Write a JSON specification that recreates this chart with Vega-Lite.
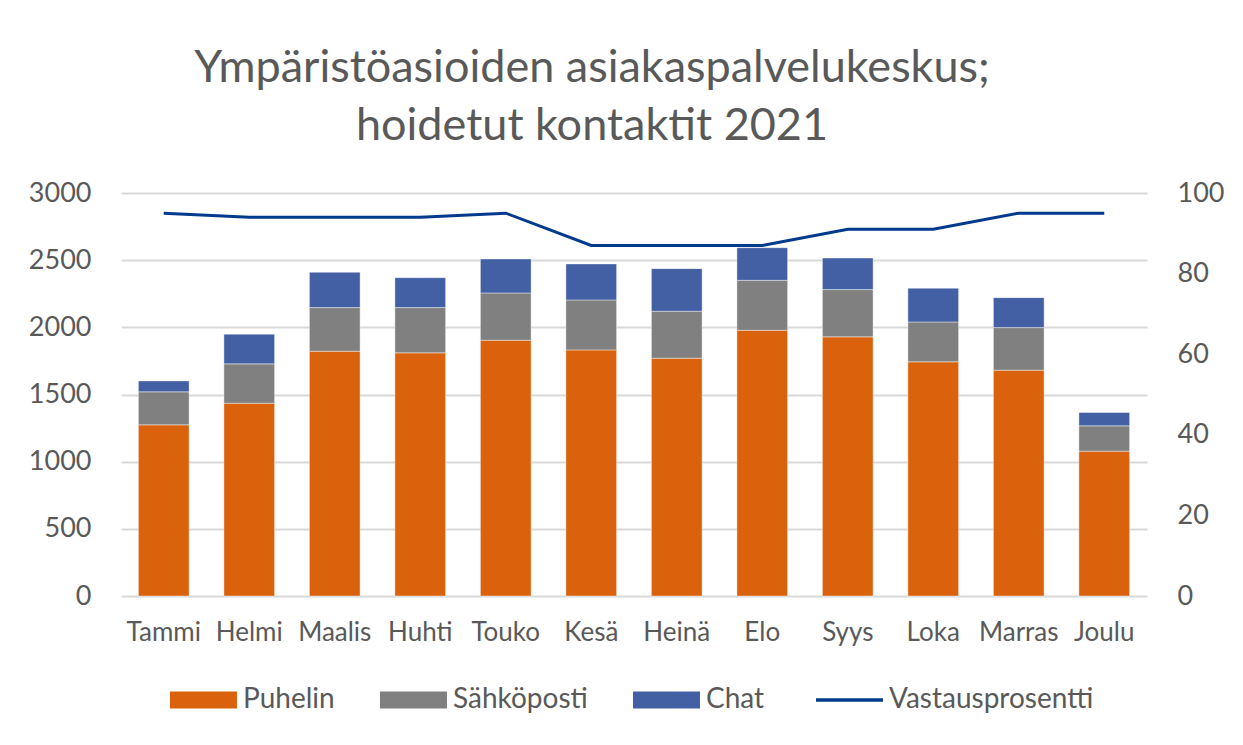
{
  "$schema": "https://vega.github.io/schema/vega-lite/v6.json",
  "width": 1026,
  "height": 403,
  "autosize": "none",
  "padding": {"left": 121, "top": 193, "right": 96, "bottom": 149},
  "background": "white",
  "config": {
    "view": {"stroke": null},
    "font": "Lato",
    "axis": {"labelFont": "Lato", "labelColor": "#595959"},
    "legend": {"labelFont": "Lato", "labelColor": "#595959"}
  },
  "title": {
    "text": ["Ympäristöasioiden asiakaspalvelukeskus;", "hoidetut kontaktit 2021"],
    "font": "Lato",
    "fontSize": 45,
    "fontWeight": "normal",
    "color": "#595959",
    "anchor": "middle",
    "dx": -42,
    "dy": 11,
    "lineHeight": 58,
    "offset": 5,
    "baseline": "alphabetic"
  },
  "datasets": {
    "bars": [
      {"kk": "Tammi", "tyyppi": "Puhelin", "maara": 1274},
      {"kk": "Tammi", "tyyppi": "Sähköposti", "maara": 246},
      {"kk": "Tammi", "tyyppi": "Chat", "maara": 81},
      {"kk": "Helmi", "tyyppi": "Puhelin", "maara": 1435},
      {"kk": "Helmi", "tyyppi": "Sähköposti", "maara": 293},
      {"kk": "Helmi", "tyyppi": "Chat", "maara": 221},
      {"kk": "Maalis", "tyyppi": "Puhelin", "maara": 1822},
      {"kk": "Maalis", "tyyppi": "Sähköposti", "maara": 325},
      {"kk": "Maalis", "tyyppi": "Chat", "maara": 263},
      {"kk": "Huhti", "tyyppi": "Puhelin", "maara": 1810},
      {"kk": "Huhti", "tyyppi": "Sähköposti", "maara": 337},
      {"kk": "Huhti", "tyyppi": "Chat", "maara": 223},
      {"kk": "Touko", "tyyppi": "Puhelin", "maara": 1904},
      {"kk": "Touko", "tyyppi": "Sähköposti", "maara": 352},
      {"kk": "Touko", "tyyppi": "Chat", "maara": 253},
      {"kk": "Kesä", "tyyppi": "Puhelin", "maara": 1832},
      {"kk": "Kesä", "tyyppi": "Sähköposti", "maara": 372},
      {"kk": "Kesä", "tyyppi": "Chat", "maara": 268},
      {"kk": "Heinä", "tyyppi": "Puhelin", "maara": 1770},
      {"kk": "Heinä", "tyyppi": "Sähköposti", "maara": 350},
      {"kk": "Heinä", "tyyppi": "Chat", "maara": 317},
      {"kk": "Elo", "tyyppi": "Puhelin", "maara": 1978},
      {"kk": "Elo", "tyyppi": "Sähköposti", "maara": 372},
      {"kk": "Elo", "tyyppi": "Chat", "maara": 243},
      {"kk": "Syys", "tyyppi": "Puhelin", "maara": 1929},
      {"kk": "Syys", "tyyppi": "Sähköposti", "maara": 352},
      {"kk": "Syys", "tyyppi": "Chat", "maara": 235},
      {"kk": "Loka", "tyyppi": "Puhelin", "maara": 1743},
      {"kk": "Loka", "tyyppi": "Sähköposti", "maara": 297},
      {"kk": "Loka", "tyyppi": "Chat", "maara": 251},
      {"kk": "Marras", "tyyppi": "Puhelin", "maara": 1681},
      {"kk": "Marras", "tyyppi": "Sähköposti", "maara": 317},
      {"kk": "Marras", "tyyppi": "Chat", "maara": 223},
      {"kk": "Joulu", "tyyppi": "Puhelin", "maara": 1078},
      {"kk": "Joulu", "tyyppi": "Sähköposti", "maara": 189},
      {"kk": "Joulu", "tyyppi": "Chat", "maara": 99}
    ],
    "linja": [
      {"kk": "Tammi", "pros": 95},
      {"kk": "Helmi", "pros": 94},
      {"kk": "Maalis", "pros": 94},
      {"kk": "Huhti", "pros": 94},
      {"kk": "Touko", "pros": 95},
      {"kk": "Kesä", "pros": 87},
      {"kk": "Heinä", "pros": 87},
      {"kk": "Elo", "pros": 87},
      {"kk": "Syys", "pros": 91},
      {"kk": "Loka", "pros": 91},
      {"kk": "Marras", "pros": 95},
      {"kk": "Joulu", "pros": 95}
    ]
  },
  "layer": [
    {
      "data": {"name": "bars"},
      "transform": [
        {"calculate": "indexof(['Puhelin','Sähköposti','Chat'], datum.tyyppi)", "as": "jarj"}
      ],
      "mark": {"type": "bar", "stroke": "white", "strokeWidth": 0.8, "strokeOpacity": 0.5},
      "encoding": {
        "x": {
          "field": "kk",
          "type": "nominal",
          "sort": ["Tammi", "Helmi", "Maalis", "Huhti", "Touko", "Kesä", "Heinä", "Elo", "Syys", "Loka", "Marras", "Joulu"],
          "scale": {"paddingInner": 0.407, "paddingOuter": 0.2035},
          "axis": {
            "title": null,
            "labelAngle": 0,
            "labelFontSize": 26,
            "labelPadding": 23,
            "ticks": false,
            "domain": false
          }
        },
        "y": {
          "field": "maara",
          "type": "quantitative",
          "stack": "zero",
          "scale": {"domain": [0, 3000], "nice": false},
          "axis": {
            "title": null,
            "values": [0, 500, 1000, 1500, 2000, 2500, 3000],
            "format": "d",
            "labelFontSize": 27,
            "labelPadding": 30,
            "ticks": false,
            "tickSize": 0,
            "domain": false,
            "grid": true,
            "gridColor": "#d9d9d9",
            "gridWidth": 2
          }
        },
        "color": {
          "field": "tyyppi",
          "type": "nominal",
          "scale": {
            "domain": ["Puhelin", "Sähköposti", "Chat", "Vastausprosentti"],
            "range": ["#DA620D", "#808080", "#4360A5", "#003A8C"]
          },
          "legend": {
            "title": null,
            "orient": "none",
            "direction": "horizontal",
            "legendX": 68.5,
            "legendY": 493,
            "padding": 0,
            "symbolSize": 4489,
            "symbolStrokeWidth": 0,
            "labelFontSize": 28,
            "labelOffset": 25.5,
            "labelLimit": 400,
            "columnPadding": 44,
            "labelColor": "#595959",
            "encoding": {
              "symbols": {
                "shape": {"value": {"expr": "datum.value === 'Vastausprosentti' ? 'M-1,0H1' : 'M-1,-0.254H1V0.254H-1Z'"}},
                "size": {"value": 4489},
                "fill": {"value": {"expr": "scale('color', datum.value)"}},
                "fillOpacity": {"value": {"expr": "datum.value === 'Vastausprosentti' ? 0 : 1"}},
                "stroke": {"value": {"expr": "scale('color', datum.value)"}},
                "strokeWidth": {"value": {"expr": "datum.value === 'Vastausprosentti' ? 3.5 : 0"}},
                "opacity": {"value": 1}
              }
            }
          }
        },
        "order": {"field": "jarj", "type": "quantitative"}
      }
    },
    {
      "data": {"name": "linja"},
      "mark": {"type": "line", "strokeWidth": 3},
      "encoding": {
        "x": {
          "field": "kk",
          "type": "nominal",
          "sort": ["Tammi", "Helmi", "Maalis", "Huhti", "Touko", "Kesä", "Heinä", "Elo", "Syys", "Loka", "Marras", "Joulu"]
        },
        "y": {
          "field": "pros",
          "type": "quantitative",
          "scale": {"domain": [0, 100], "nice": false},
          "axis": {
            "orient": "right",
            "title": null,
            "values": [0, 20, 40, 60, 80, 100],
            "labelFontSize": 27,
            "labelPadding": 30,
            "ticks": false,
            "tickSize": 0,
            "domain": false,
            "grid": false
          }
        },
        "color": {
          "datum": "Vastausprosentti",
          "legend": {
            "title": null,
            "orient": "none",
            "direction": "horizontal",
            "legendX": 68.5,
            "legendY": 493,
            "padding": 0,
            "symbolSize": 4489,
            "symbolStrokeWidth": 0,
            "labelFontSize": 28,
            "labelOffset": 25.5,
            "labelLimit": 400,
            "columnPadding": 44,
            "labelColor": "#595959",
            "encoding": {
              "symbols": {
                "shape": {"value": {"expr": "datum.value === 'Vastausprosentti' ? 'M-1,0H1' : 'M-1,-0.254H1V0.254H-1Z'"}},
                "size": {"value": 4489},
                "fill": {"value": {"expr": "scale('color', datum.value)"}},
                "fillOpacity": {"value": {"expr": "datum.value === 'Vastausprosentti' ? 0 : 1"}},
                "stroke": {"value": {"expr": "scale('color', datum.value)"}},
                "strokeWidth": {"value": {"expr": "datum.value === 'Vastausprosentti' ? 3.5 : 0"}},
                "opacity": {"value": 1}
              }
            }
          }
        }
      }
    }
  ],
  "resolve": {"scale": {"y": "independent"}}
}
